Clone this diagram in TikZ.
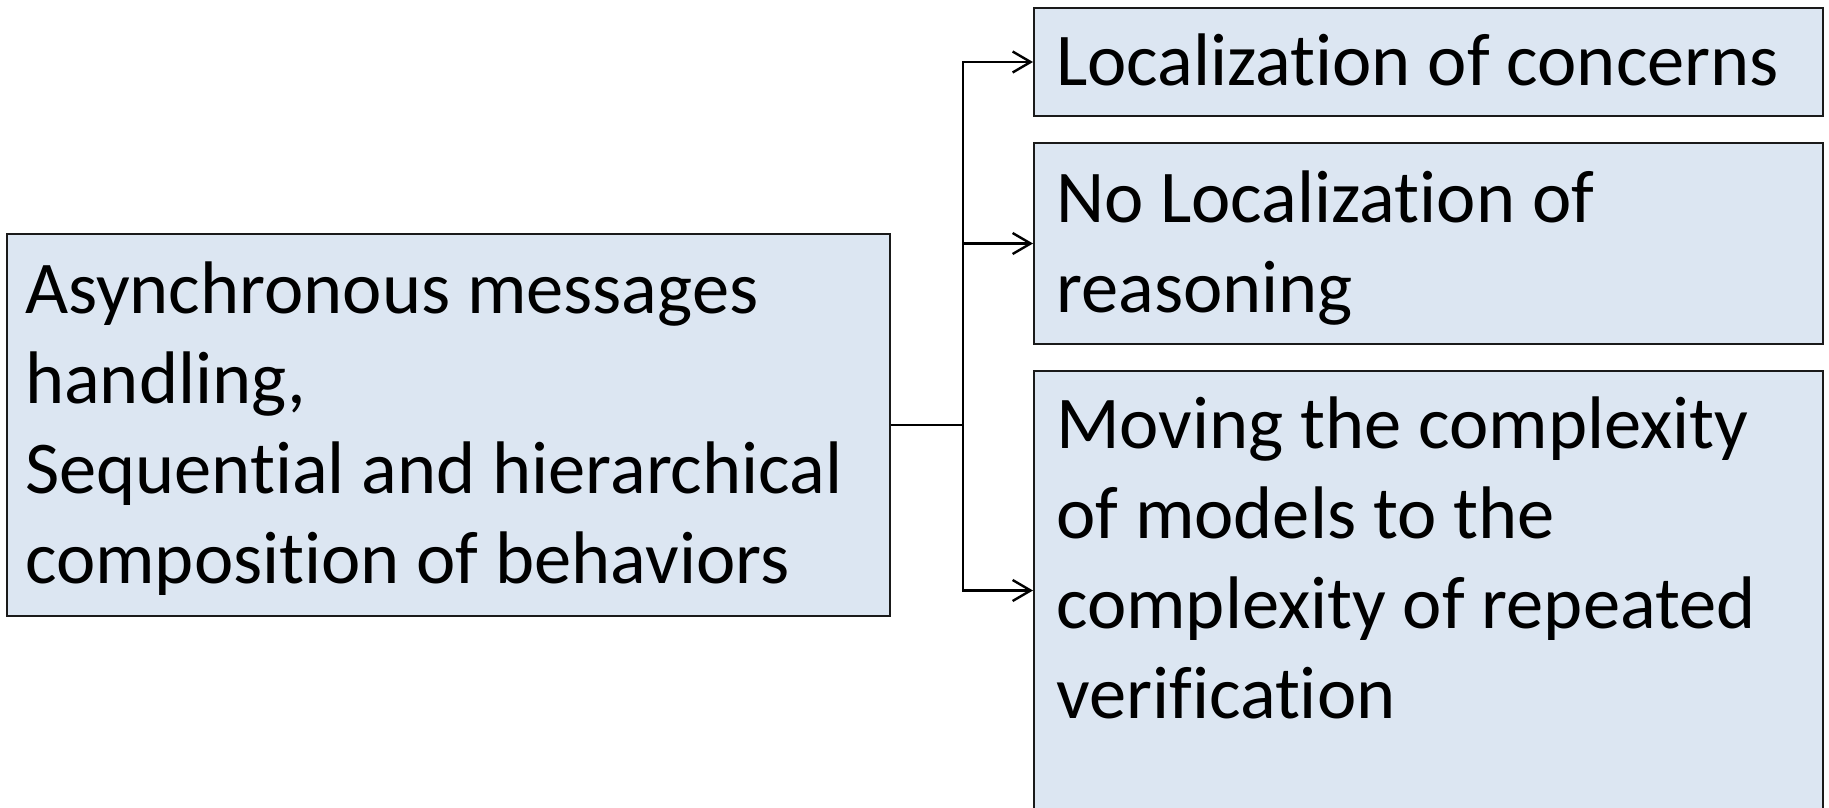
\documentclass[tikz,border=0pt]{standalone}
\usepackage{fontspec}
\newfontfamily\boxfont[Ligatures=NoCommon]{Carlito}
\newcommand\boxtextfont{\boxfont\fontsize{74.5}{90}\selectfont}
\usetikzlibrary{arrows.meta}
\definecolor{boxfill}{HTML}{DCE6F2}
\definecolor{boxline}{HTML}{1A1A1A}
\tikzset{
  box/.style={draw=boxline, fill=boxfill, line width=2pt, rectangle, inner sep=0pt, anchor=north west},
  boxtext/.style={inner sep=0pt, anchor=base west, align=flush left, font=\boxtextfont},
  link/.style={draw=black, line width=2.4pt},
  arrowlink/.style={link, -{Straight Barb[length=18pt,width=21pt]}}
}
\begin{document}
\begin{tikzpicture}[x=1pt,y=-1pt]
  \useasboundingbox (0,0) rectangle (1829,808);
  \begin{scope}
    \clip (0,0) rectangle (1829,808);
    % source box on the left
    \node[box, minimum width=883pt, minimum height=382pt] (src) at (6,233) {};
    \node[boxtext, text width=860pt] (srct) at (25,313)
      {Asynchronous messages\\handling,\\Sequential and hierarchical\\composition of behaviors};
    % three consequence boxes on the right
    \node[box, minimum width=789pt, minimum height=108pt] (c1) at (1033,7) {};
    \node[boxtext, text width=760pt] (c1t) at (1056,85) {Localization of concerns};
    \node[box, minimum width=789pt, minimum height=201pt] (c2) at (1033,142) {};
    \node[boxtext, text width=760pt] (c2t) at (1056,222) {No Localization of\\reasoning};
    \node[box, minimum width=789pt, minimum height=439pt] (c3) at (1033,370) {};
    \node[boxtext, text width=760pt] (c3t) at (1056,448)
      {Moving the complexity\\of models to the\\complexity of repeated\\verification};
  \end{scope}
  % branching connector
  \path (src.east) -- ++(72,0) coordinate (j);
  \draw[link] (src.east) -- (j);
  \draw[arrowlink] (j) |- (c1.west);
  \draw[arrowlink] (j) |- (c2.west);
  \draw[arrowlink] (j) |- (c3.west);
\end{tikzpicture}
\end{document}
